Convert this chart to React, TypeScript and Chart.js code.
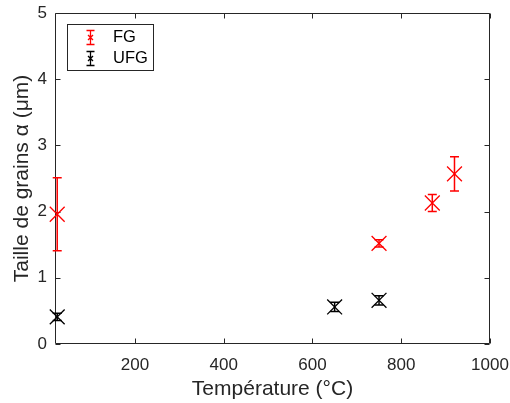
import React, { useEffect, useRef } from "react";
import { Chart, registerables } from "chart.js";

Chart.register(...registerables);

const fgTemp = [25, 750, 870, 920];
const fgSize = [1.96, 1.52, 2.13, 2.57];
const fgErr = [0.55, 0.055, 0.13, 0.26];

const ufgTemp = [25, 650, 750];
const ufgSize = [0.41, 0.56, 0.66];
const ufgErr = [0.055, 0.07, 0.07];

const xTicks = [200, 400, 600, 800, 1000];
const yTicks = [0, 1, 2, 3, 4, 5];

const seriesLabels = ["FG", "UFG"];
const seriesColors = ["#ff0000", "#000000"];
const axisColor = "#262626";
const FONT = "'Liberation Sans', Arial, Helvetica, sans-serif";

const errs = [fgErr, ufgErr];

const errorBarPlugin = {
  id: "errorBars",
  afterDatasetsDraw(chart: any) {
    const ctx = chart.ctx;
    const xs = chart.scales.x;
    const ys = chart.scales.y;
    chart.data.datasets.forEach((ds: any, di: number) => {
      ctx.save();
      ctx.strokeStyle = seriesColors[di];
      ctx.lineWidth = 1.5;
      ds.data.forEach((p: any, i: number) => {
        const e = errs[di][i];
        const px = xs.getPixelForValue(p.x);
        const yt = ys.getPixelForValue(p.y + e);
        const yb = ys.getPixelForValue(p.y - e);
        const cap = 4.5;
        ctx.beginPath();
        ctx.moveTo(px, yt);
        ctx.lineTo(px, yb);
        ctx.moveTo(px - cap, yt);
        ctx.lineTo(px + cap, yt);
        ctx.moveTo(px - cap, yb);
        ctx.lineTo(px + cap, yb);
        ctx.stroke();
      });
      ctx.restore();
    });
  },
};

const framePlugin = {
  id: "frame",
  beforeDatasetsDraw(chart: any) {
    const ctx = chart.ctx;
    const { left, right, top, bottom } = chart.chartArea;
    const xs = chart.scales.x;
    const ys = chart.scales.y;
    const L = Math.round(left) + 0.5;
    const R = Math.round(right) - 0.5;
    const T = Math.round(top) + 0.5;
    const B = Math.round(bottom) - 0.5;
    ctx.save();
    ctx.strokeStyle = axisColor;
    ctx.lineWidth = 1;
    ctx.beginPath();
    ctx.rect(L, T, R - L, B - T);
    const tl = 5;
    xTicks.forEach((v) => {
      const px = Math.round(xs.getPixelForValue(v)) + 0.5;
      ctx.moveTo(px, B);
      ctx.lineTo(px, B - tl);
      ctx.moveTo(px, T);
      ctx.lineTo(px, T + tl);
    });
    yTicks.forEach((v) => {
      const py = Math.round(ys.getPixelForValue(v)) + 0.5;
      ctx.moveTo(L, py);
      ctx.lineTo(L + tl, py);
      ctx.moveTo(R, py);
      ctx.lineTo(R - tl, py);
    });
    ctx.stroke();
    ctx.restore();
  },
  afterDraw(chart: any) {
    const ctx = chart.ctx;
    ctx.save();
    ctx.lineWidth = 1;
    const bx = 67.5, by = 24.5, bw = 86, bh = 46;
    ctx.fillStyle = "#ffffff";
    ctx.fillRect(bx, by, bw, bh);
    ctx.strokeStyle = axisColor;
    ctx.strokeRect(bx, by, bw, bh);
    const rows = [37.5, 58.5];
    rows.forEach((ry, i) => {
      const ix = 90.5;
      ctx.strokeStyle = seriesColors[i];
      ctx.lineWidth = 1.3;
      ctx.beginPath();
      ctx.moveTo(ix, ry - 7);
      ctx.lineTo(ix, ry + 7);
      ctx.moveTo(ix - 4, ry - 7);
      ctx.lineTo(ix + 4, ry - 7);
      ctx.moveTo(ix - 4, ry + 7);
      ctx.lineTo(ix + 4, ry + 7);
      ctx.moveTo(ix - 2.5, ry - 2.5);
      ctx.lineTo(ix + 2.5, ry + 2.5);
      ctx.moveTo(ix - 2.5, ry + 2.5);
      ctx.lineTo(ix + 2.5, ry - 2.5);
      ctx.stroke();
      ctx.fillStyle = "#000000";
      ctx.font = `16.5px ${FONT}`;
      ctx.textBaseline = "middle";
      ctx.textAlign = "left";
      ctx.fillText(seriesLabels[i], 113, ry);
    });
    ctx.restore();
  },
};

export default function App() {
  const ref = useRef<HTMLCanvasElement | null>(null);

  useEffect(() => {
    if (!ref.current) return;
    const chart = new Chart(ref.current, {
      type: "scatter",
      data: {
        datasets: [
          {
            label: seriesLabels[0],
            data: fgTemp.map((x, i) => ({ x, y: fgSize[i] })),
            borderColor: seriesColors[0],
            backgroundColor: seriesColors[0],
            pointStyle: "crossRot",
            pointRadius: 10.5,
            pointBorderWidth: 1.3,
            clip: false,
          },
          {
            label: seriesLabels[1],
            data: ufgTemp.map((x, i) => ({ x, y: ufgSize[i] })),
            borderColor: seriesColors[1],
            backgroundColor: seriesColors[1],
            pointStyle: "crossRot",
            pointRadius: 10.5,
            pointBorderWidth: 1.3,
            clip: false,
          },
        ],
      },
      options: {
        animation: false,
        responsive: true,
        maintainAspectRatio: false,
        layout: { padding: { top: 13, right: 20, left: 0, bottom: 0 } },
        plugins: {
          legend: { display: false },
          tooltip: { enabled: false },
        },
        scales: {
          x: {
            type: "linear",
            min: 20,
            max: 1000,
            grid: { display: false, drawTicks: false },
            border: { display: false },
            afterBuildTicks: (s: any) => {
              s.ticks = xTicks.map((v) => ({ value: v }));
            },
            afterFit: (s: any) => {
              s.height = 59;
              s.paddingLeft = 0;
              s.paddingRight = 0;
            },
            ticks: {
              padding: 11,
              color: axisColor,
              font: { family: FONT, size: 17 },
              maxRotation: 0,
              callback: (v: any) => String(v),
            },
            title: {
              display: true,
              text: "Température (°C)",
              color: axisColor,
              font: { family: FONT, size: 21 },
              padding: { top: 0, bottom: 1 },
            },
          },
          y: {
            type: "linear",
            min: 0,
            max: 5,
            grid: { display: false, drawTicks: false },
            border: { display: false },
            afterBuildTicks: (s: any) => {
              s.ticks = yTicks.map((v) => ({ value: v }));
            },
            afterFit: (s: any) => {
              s.width = 55;
              s.paddingTop = 0;
              s.paddingBottom = 0;
            },
            ticks: {
              padding: 8,
              color: axisColor,
              font: { family: FONT, size: 17 },
              callback: (v: any) => String(v),
            },
            title: {
              display: true,
              text: "Taille de grains α (μm)",
              color: axisColor,
              font: { family: FONT, size: 21 },
              padding: { top: 10, bottom: 0 },
            },
          },
        },
      },
      plugins: [errorBarPlugin, framePlugin],
    } as any);
    return () => chart.destroy();
  }, []);

  return (
    <div style={{ position: "absolute", left: 0, top: 0, width: 510, height: 403, background: "#fff" }}>
      <canvas ref={ref} />
    </div>
  );
}
